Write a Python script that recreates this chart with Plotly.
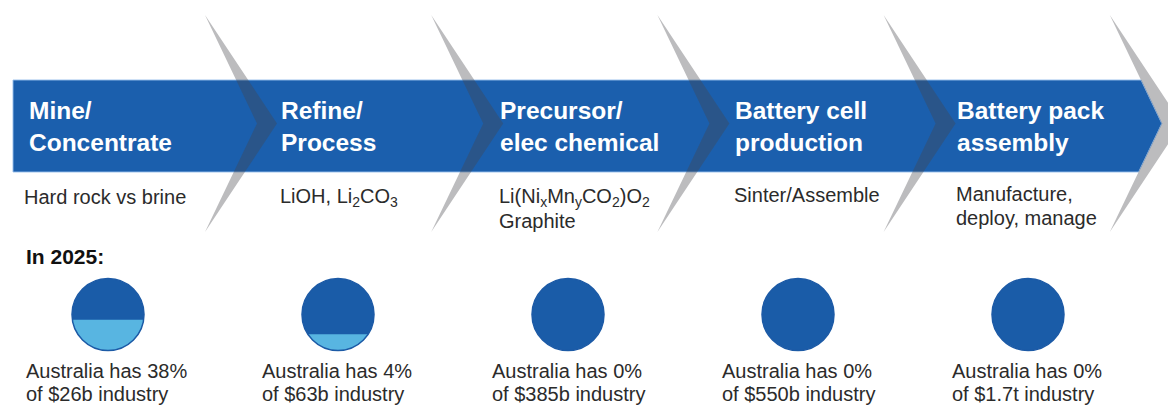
import numpy as np
import plotly.graph_objects as go

# ---------------- data ----------------
stage_titles = ["Mine/<br>Concentrate", "Refine/<br>Process", "Precursor/<br>elec chemical",
                "Battery cell<br>production", "Battery pack<br>assembly"]
stage_details = [["Hard rock vs brine"],
                 ["LiOH, Li<sub>2</sub>CO<sub>3</sub>"],
                 ["Li(Ni<sub>x</sub>Mn<sub>y</sub>CO<sub>2</sub>)O<sub>2</sub>", "Graphite"],
                 ["Sinter/Assemble"],
                 ["Manufacture,", "deploy, manage"]]
au_share_pct = [38, 4, 0, 0, 0]
industry_size = ["$26b", "$63b", "$385b", "$550b", "$1.7t"]
year_label = "In 2025:"

# ---------------- style ----------------
W, H = 1168, 405
BAND = "#1b5fad"
DARK = "#1a5ca8"
LIGHT = "#58b5e1"
TXT = "#2b2b2b"
FONT = "Arial, Liberation Sans, sans-serif"

stage_x0 = 13
stage_step = 226.2
chev_top = 15
chev_bot = 232
chev_mid = (chev_top + chev_bot) / 2
band_top, band_bot = 80, 172
circle_cy, circle_r = 314.5, 36
circle_step = 230


def chevron_x(cx, y, depth):
    return cx + depth * (1 - abs(y - chev_mid) / (chev_mid - chev_top))


def fill_scale(share):
    # visual fill height (fraction of diameter) used in the original graphic
    return 0 if share <= 0 else 0.2 + 0.6 * share / 100.0


shapes = []
annotations = []

n = len(stage_titles)
chev_xs = [205 + i * stage_step for i in range(n)]

# band ending in an arrow point following the last chevron
cx_last = chev_xs[-1]
band_path = (f"M {stage_x0},{band_top} L {chevron_x(cx_last, band_top, 52):.1f},{band_top} "
             f"L {cx_last + 52:.1f},{chev_mid} L {chevron_x(cx_last, band_bot, 52):.1f},{band_bot} "
             f"L {stage_x0},{band_bot} Z")
shapes.append(dict(type="path", path=band_path, fillcolor=BAND,
                   line=dict(color="rgba(150,190,235,0.9)", width=1), layer="below"))

# chevrons
for cx in chev_xs:
    p = (f"M {cx},{chev_top} L {cx + 72},{chev_mid} L {cx},{chev_bot} "
         f"L {cx + 52},{chev_mid} Z")
    shapes.append(dict(type="path", path=p, fillcolor="rgba(70,70,75,0.36)",
                       line=dict(width=0), layer="above"))

# stage titles and details
title_x = [27, 279, 498, 733, 955]
detail_y = [197, 197, 197, 195, 194]
for i in range(n):
    annotations.append(dict(x=title_x[i], y=126, xref="x", yref="y", text=f"<b>{stage_titles[i]}</b>",
                            showarrow=False, xanchor="left", yanchor="middle", align="left",
                            font=dict(family=FONT, size=24.5, color="white")))
    dx = title_x[i] - (5 if i == 0 else 1)
    for j, line in enumerate(stage_details[i]):
        annotations.append(dict(x=dx, y=detail_y[i] + 24 * j, xref="x", yref="y",
                                text=line, showarrow=False, xanchor="left", yanchor="middle",
                                align="left", font=dict(family=FONT, size=20, color=TXT)))

annotations.append(dict(x=24, y=256.5, xref="x", yref="y", text=f"<b>{year_label}</b>", showarrow=False,
                        xanchor="left", yanchor="middle", font=dict(family=FONT, size=21, color="#111")))

# share circles
for i in range(n):
    cx = 108 + i * circle_step
    cy, r = circle_cy, circle_r
    shapes.append(dict(type="circle", x0=cx - r, x1=cx + r, y0=cy - r, y1=cy + r,
                       fillcolor=DARK, line=dict(width=0), layer="above"))
    frac = fill_scale(au_share_pct[i])
    if frac > 0:
        yc = cy + r - frac * 2 * r
        t1 = np.arcsin(np.clip((yc - cy) / r, -1, 1))
        th = np.linspace(t1, np.pi - t1, 60)
        xs = cx + r * np.cos(th)
        ys = cy + r * np.sin(th)
        p = "M " + " L ".join(f"{x:.2f},{y:.2f}" for x, y in zip(xs, ys)) + " Z"
        shapes.append(dict(type="path", path=p, fillcolor=LIGHT,
                           line=dict(width=0), layer="above"))
    shapes.append(dict(type="circle", x0=cx - r, x1=cx + r, y0=cy - r, y1=cy + r,
                       fillcolor="rgba(0,0,0,0)", line=dict(color="#1c5aa6", width=1.5), layer="above"))
    bx = cx - 84 + (0 if i == 0 else 6)
    lines = [f"Australia has {au_share_pct[i]}%", f"of {industry_size[i]} industry"]
    for j, line in enumerate(lines):
        annotations.append(dict(x=bx, y=370.5 + 23 * j, xref="x", yref="y", text=line,
                                showarrow=False, xanchor="left", yanchor="middle", align="left",
                                font=dict(family=FONT, size=20, color=TXT)))

fig = go.Figure()
fig.add_trace(go.Scatter(x=[0, W], y=[0, H], mode="markers", marker=dict(opacity=0),
                         hoverinfo="skip", showlegend=False))
fig.update_layout(
    width=W, height=H, margin=dict(l=0, r=0, t=0, b=0),
    paper_bgcolor="white", plot_bgcolor="white",
    xaxis=dict(range=[0, W], visible=False, fixedrange=True),
    yaxis=dict(range=[H, 0], visible=False, fixedrange=True),
    shapes=shapes, annotations=annotations, showlegend=False,
)
fig.write_html("out.html")
